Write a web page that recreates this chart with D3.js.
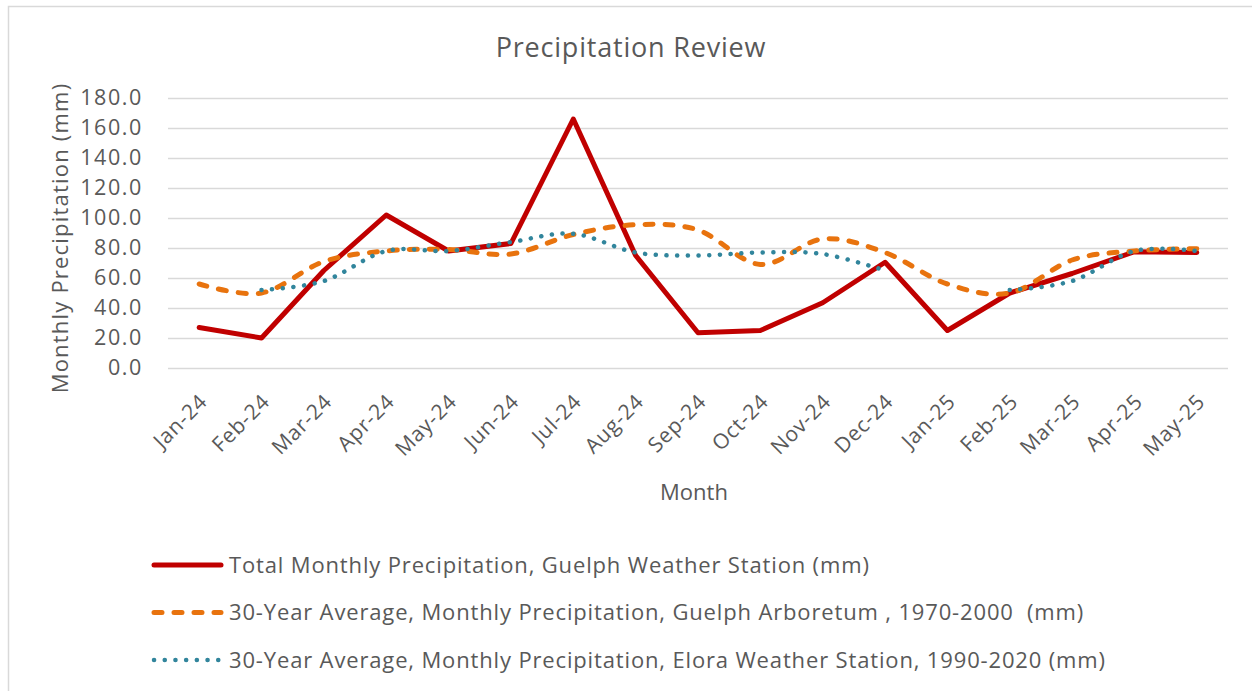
<!DOCTYPE html>
<html>
<head>
<meta charset="utf-8">
<script src="https://cdn.jsdelivr.net/npm/d3@7"></script>
<style>
  body { margin: 0; background: #fff; }
  svg { display: block; font-family: "Open Sans", Lato, sans-serif; }
  text { white-space: pre; }
</style>
</head>
<body>
<div class="container"></div>
<script>
// chart data
const months = ["Jan-24", "Feb-24", "Mar-24", "Apr-24", "May-24", "Jun-24", "Jul-24", "Aug-24", "Sep-24",
  "Oct-24", "Nov-24", "Dec-24", "Jan-25", "Feb-25", "Mar-25", "Apr-25", "May-25"]
const guelphTotal = [27, 20, 65, 102, 78, 83, 166, 75, 23.5, 25, 43.5, 70.5, 25, 50, 63, 77.5, 77]
const arboretumAvg = [56, 50, 71, 78, 79, 76, 89, 95.5, 92, 69, 86, 77, 56, 50, 72, 78, 79.5]
const eloraAvg = [null, 52, 58, 78, 78, 84, 89.5, 77, 75, 77, 76, 65, null, 52, 58, 78, 78]
const yTicks = [0, 20, 40, 60, 80, 100, 120, 140, 160, 180]
const seriesNames = [
  "Total Monthly Precipitation, Guelph Weather Station (mm)",
  "30-Year Average, Monthly Precipitation, Guelph Arboretum , 1970-2000  (mm)",
  "30-Year Average, Monthly Precipitation, Elora Weather Station, 1990-2020 (mm)"
]

width = 1252
height = 691
margin = ({ top: 98, right: 24, bottom: 323, left: 168 })
textColor = "#595959"

const series = [
  { name: seriesNames[0], values: guelphTotal, color: "#c00000", width: 5, dash: null, curve: d3.curveLinear },
  { name: seriesNames[1], values: arboretumAvg, color: "#e8730e", width: 5, dash: "8 12", curve: d3.curveCardinal.tension(0) },
  { name: seriesNames[2], values: eloraAvg, color: "#31859c", width: 4.5, dash: "0.1 10.6", curve: d3.curveCardinal.tension(0) }
]

x = d3.scalePoint()
  .domain(months)
  .range([margin.left, width - margin.right])
  .padding(0.5)

y = d3.scaleLinear()
  .domain([0, 180])
  .range([height - margin.bottom, margin.top])

const svg = d3.select(".container").append("svg")
  .attr("width", width)
  .attr("height", height)
  .attr("viewBox", [0, 0, width, height])

// outer chart border
svg.append("rect")
  .attr("x", 8.5).attr("y", 6.5)
  .attr("width", width + 20).attr("height", height + 20)
  .attr("fill", "none")
  .attr("stroke", "#d9d9d9")
  .attr("stroke-width", 1.5)

svg.append("text")
  .attr("x", 631).attr("y", 57)
  .attr("text-anchor", "middle")
  .attr("fill", textColor)
  .attr("font-size", 27)
  .attr("letter-spacing", 0.8)
  .text("Precipitation Review")

// y axis with gridlines
const gy = svg.append("g")
  .attr("transform", `translate(${margin.left},0)`)
  .call(d3.axisLeft(y).tickValues(yTicks).tickFormat(d3.format(".1f"))
    .tickSize(-(width - margin.left - margin.right)).tickPadding(25))
gy.select(".domain").remove()
gy.selectAll(".tick line").attr("stroke", "#d9d9d9").attr("stroke-width", 1.5)
gy.selectAll(".tick text").attr("fill", textColor).attr("font-size", 21.5)
  .attr("font-family", "'Open Sans', sans-serif")
  .attr("letter-spacing", 1.6)

// x axis labels
const gx = svg.append("g")
  .attr("transform", `translate(0,${height - margin.bottom})`)
  .call(d3.axisBottom(x).tickSize(0).tickPadding(0))
gx.select(".domain").remove()
gx.selectAll(".tick text")
  .attr("fill", textColor)
  .attr("font-size", 21)
  .attr("font-family", "'Open Sans', sans-serif")
  .attr("letter-spacing", 0.8)
  .attr("text-anchor", "end")
  .attr("dy", 0)
  .attr("transform", "translate(9,35) rotate(-45)")

svg.append("text")
  .attr("x", 694).attr("y", 500)
  .attr("text-anchor", "middle")
  .attr("fill", textColor)
  .attr("font-size", 22)
  .text("Month")

svg.append("text")
  .attr("transform", "translate(68,238) rotate(-90)")
  .attr("text-anchor", "middle")
  .attr("fill", textColor)
  .attr("font-size", 22)
  .attr("letter-spacing", 1.2)
  .text("Monthly Precipitation (mm)")

// series lines
series.forEach(s => {
  const line = d3.line()
    .defined(d => d != null)
    .x((d, i) => x(months[i]))
    .y(d => y(d))
    .curve(s.curve)
  svg.append("path")
    .datum(s.values)
    .attr("fill", "none")
    .attr("stroke", s.color)
    .attr("stroke-width", s.width)
    .attr("stroke-linecap", "round")
    .attr("stroke-linejoin", "round")
    .attr("stroke-dasharray", s.dash)
    .attr("d", line)
})

// legend
const legend = svg.append("g")
  .selectAll("g")
  .data(series)
  .join("g")
  .attr("transform", (d, i) => `translate(154,${565 + i * 47.5})`)

legend.append("line")
  .attr("x1", 0).attr("x2", 67)
  .attr("stroke", d => d.color)
  .attr("stroke-width", d => d.width)
  .attr("stroke-linecap", "round")
  .attr("stroke-dasharray", d => d.dash)

legend.append("text")
  .attr("x", 75)
  .attr("dy", "0.36em")
  .attr("fill", textColor)
  .attr("font-size", 22)
  .attr("letter-spacing", 0.85)
  .text(d => d.name)
</script>
</body>
</html>
